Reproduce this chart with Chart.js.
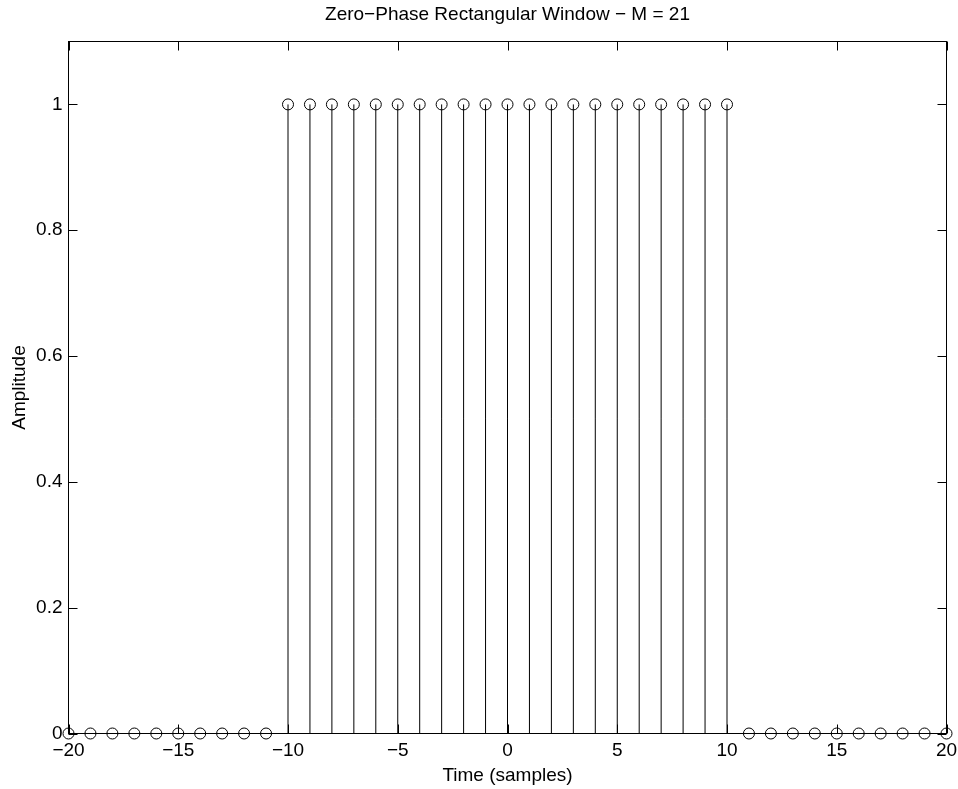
<!DOCTYPE html>
<html>
<head>
<meta charset="utf-8">
<title>Zero-Phase Rectangular Window</title>
<script src="https://cdn.jsdelivr.net/npm/chart.js@4.4.1/dist/chart.umd.min.js"></script>
<style>
  html, body { margin: 0; padding: 0; background: #fff; }
</style>
</head>
<body>
<canvas id="stem" width="958" height="789"></canvas>
<script>
// time index n and window value w[n], M = 21 centred on zero
var samples = [-20, -19, -18, -17, -16, -15, -14, -13, -12, -11,
               -10, -9, -8, -7, -6, -5, -4, -3, -2, -1, 0, 1, 2, 3, 4, 5, 6, 7, 8, 9, 10,
               11, 12, 13, 14, 15, 16, 17, 18, 19, 20];
var amplitude = [0, 0, 0, 0, 0, 0, 0, 0, 0, 0,
                 1, 1, 1, 1, 1, 1, 1, 1, 1, 1, 1, 1, 1, 1, 1, 1, 1, 1, 1, 1, 1,
                 0, 0, 0, 0, 0, 0, 0, 0, 0, 0];

var xTicks = [-20, -15, -10, -5, 0, 5, 10, 15, 20];
var xTickLabels = ['\u221220', '\u221215', '\u221210', '\u22125', '0', '5', '10', '15', '20'];
var yTicks = [0, 0.2, 0.4, 0.6, 0.8, 1];
var yTickLabels = ['0', '0.2', '0.4', '0.6', '0.8', '1'];

var titleText = 'Zero\u2212Phase Rectangular Window \u2212 M = 21';
var fontFamily = '"Liberation Sans", Arial, Helvetica, sans-serif';
var fontSize = 19;

var points = [];
for (var i = 0; i < samples.length; i++) {
    points.push({x: samples[i], y: amplitude[i]});
}

// vertical stems from the baseline up to each sample
var stemPlugin = {
    id: 'stems',
    beforeDatasetsDraw: function (chart) {
        var ctx = chart.ctx;
        var xs = chart.scales.x;
        var ys = chart.scales.y;
        var y0 = ys.getPixelForValue(0);
        ctx.save();
        ctx.strokeStyle = '#000';
        ctx.lineWidth = 1;
        for (var i = 0; i < samples.length; i++) {
            if (amplitude[i] === 0) continue;
            var px = xs.getPixelForValue(samples[i]);
            ctx.beginPath();
            ctx.moveTo(px, y0);
            ctx.lineTo(px, ys.getPixelForValue(amplitude[i]));
            ctx.stroke();
        }
        ctx.restore();
    }
};

// box round the axes with inward tick marks on all four sides, title centred over the axes
var framePlugin = {
    id: 'frame',
    afterDraw: function (chart) {
        var ctx = chart.ctx;
        var a = chart.chartArea;
        var xs = chart.scales.x;
        var ys = chart.scales.y;
        var len = 9;
        ctx.save();
        ctx.strokeStyle = '#000';
        ctx.lineWidth = 1;
        ctx.strokeRect(a.left, a.top, a.right - a.left, a.bottom - a.top);
        ctx.beginPath();
        xTicks.forEach(function (v) {
            var px = Math.round(xs.getPixelForValue(v)) + 0.5;
            ctx.moveTo(px, a.bottom);
            ctx.lineTo(px, a.bottom - len);
            ctx.moveTo(px, a.top);
            ctx.lineTo(px, a.top + len);
        });
        yTicks.forEach(function (v) {
            var py = Math.round(ys.getPixelForValue(v)) + 0.5;
            ctx.moveTo(a.left, py);
            ctx.lineTo(a.left + len, py);
            ctx.moveTo(a.right, py);
            ctx.lineTo(a.right - len, py);
        });
        ctx.stroke();

        ctx.fillStyle = '#000';
        ctx.font = fontSize + 'px ' + fontFamily;
        ctx.textAlign = 'center';
        ctx.textBaseline = 'middle';
        ctx.fillText(titleText, (a.left + a.right) / 2, 15);
        ctx.restore();
    }
};

new Chart(document.getElementById('stem').getContext('2d'), {
    type: 'scatter',
    data: {
        datasets: [{
            label: 'w[n]',
            data: points,
            showLine: false,
            clip: false,
            pointStyle: 'circle',
            pointRadius: 5.5,
            pointBorderWidth: 1,
            borderColor: '#000',
            backgroundColor: 'rgba(0,0,0,0)'
        }, {
            label: 'baseline',
            data: [{x: samples[0], y: 0}, {x: samples[samples.length - 1], y: 0}],
            showLine: true,
            clip: false,
            pointRadius: 0,
            borderWidth: 1,
            borderColor: '#000'
        }]
    },
    options: {
        responsive: false,
        animation: false,
        devicePixelRatio: 1,
        layout: {padding: {left: 0, top: 41.5, right: 11.5, bottom: 0}},
        plugins: {
            legend: {display: false},
            tooltip: {enabled: false}
        },
        scales: {
            x: {
                type: 'linear',
                min: -20,
                max: 20,
                afterBuildTicks: function (scale) {
                    scale.ticks = xTicks.map(function (v) { return {value: v}; });
                },
                afterFit: function (scale) {
                    scale.height = 55.5;
                    scale.paddingLeft = 0;
                    scale.paddingRight = 0;
                },
                grid: {display: false, drawTicks: false},
                border: {display: false},
                ticks: {
                    color: '#000',
                    font: {family: fontFamily, size: fontSize},
                    padding: 6,
                    maxRotation: 0,
                    autoSkip: false,
                    callback: function (v, i) { return xTickLabels[i]; }
                },
                title: {
                    display: true,
                    text: 'Time (samples)',
                    color: '#000',
                    font: {family: fontFamily, size: fontSize},
                    padding: {top: 0, bottom: 2}
                }
            },
            y: {
                type: 'linear',
                min: 0,
                max: 1.1,
                afterBuildTicks: function (scale) {
                    scale.ticks = yTicks.map(function (v) { return {value: v}; });
                },
                afterFit: function (scale) {
                    scale.width = 68.5;
                    scale.paddingTop = 0;
                    scale.paddingBottom = 0;
                },
                grid: {display: false, drawTicks: false},
                border: {display: false},
                ticks: {
                    color: '#000',
                    font: {family: fontFamily, size: fontSize},
                    padding: 6,
                    autoSkip: false,
                    callback: function (v, i) { return yTickLabels[i]; }
                },
                title: {
                    display: true,
                    text: 'Amplitude',
                    color: '#000',
                    font: {family: fontFamily, size: fontSize},
                    padding: {top: 8, bottom: 0}
                }
            }
        }
    },
    plugins: [stemPlugin, framePlugin]
});
</script>
</body>
</html>
